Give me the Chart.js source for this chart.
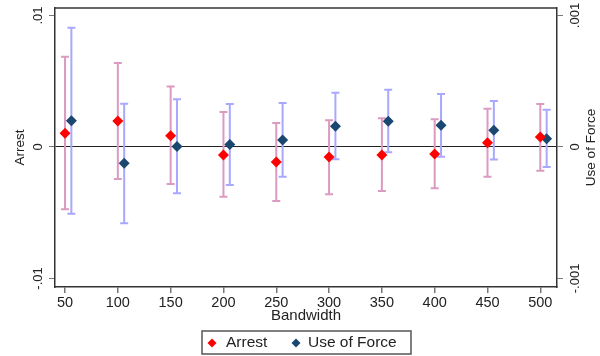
<!DOCTYPE html>
<html>
<head>
<meta charset="utf-8">
<script src="https://cdn.jsdelivr.net/npm/chart.js@4"></script>
<style>
  html, body { margin: 0; padding: 0; background: #fff; }
  #wrap { width: 600px; height: 356px; }
</style>
</head>
<body>
<div id="wrap"><canvas id="rdChart" width="600" height="356"></canvas></div>
<script>
// data
const bandwidths = [50, 100, 150, 200, 250, 300, 350, 400, 450, 500];
const xTicks = [50, 100, 150, 200, 250, 300, 350, 400, 450, 500];

const arrestEst = [0.00104, 0.00198, 0.00086, -0.00061, -0.00114, -0.00076, -0.00061, -0.00053, 0.00033, 0.00076];
const arrestLo  = [-0.00474, -0.00243, -0.00281, -0.00378, -0.00411, -0.0036, -0.00335, -0.00314, -0.00226, -0.0018];
const arrestHi  = [0.00687, 0.00639, 0.00459, 0.00266, 0.00183, 0.00203, 0.00218, 0.0021, 0.00291, 0.00327];

const forceEst = [0.0002, -0.000124, 0.000003, 0.000018, 0.000053, 0.000157, 0.000195, 0.000165, 0.000127, 0.000063];
const forceLo  = [-0.000507, -0.00058, -0.000352, -0.000289, -0.000226, -0.000094, -0.00004, -0.000074, -0.000096, -0.000152];
const forceHi  = [0.000907, 0.000329, 0.000363, 0.000327, 0.000335, 0.000413, 0.000436, 0.000403, 0.00035, 0.000284];

const forceOffset = 6; // use of force drawn a bit to the right

const leftTicks = [-0.01, 0, 0.01];
const leftTickLabels = ["-.01", "0", ".01"];
const rightTicks = [-0.001, 0, 0.001];
const rightTickLabels = ["-.001", "0", ".001"];

const FONT = '"Liberation Sans", Arial, sans-serif';
const RED = "#ff0000";
const NAVY = "#1a476f";
const PINK = "#dc9ac0";
const LAVENDER = "#a8a8ff";
const AXIS = "#333333";
const TICK = "#777777";

// error bars, under the markers
const errorBars = {
  id: "errorBars",
  beforeDatasetsDraw(chart) {
    const { ctx, scales } = chart;
    const x = scales.x;
    const drawBar = (xv, lo, hi, yScale, color) => {
      const px = x.getPixelForValue(xv);
      const top = yScale.getPixelForValue(hi);
      const bot = yScale.getPixelForValue(lo);
      ctx.strokeStyle = color;
      ctx.beginPath();
      ctx.moveTo(px, top); ctx.lineTo(px, bot);
      ctx.moveTo(px - 4, top); ctx.lineTo(px + 4, top);
      ctx.moveTo(px - 4, bot); ctx.lineTo(px + 4, bot);
      ctx.stroke();
    };
    ctx.save();
    ctx.lineWidth = 2;
    bandwidths.forEach((b, i) => {
      drawBar(b, arrestLo[i], arrestHi[i], scales.y, PINK);
      drawBar(b + forceOffset, forceLo[i], forceHi[i], scales.y2, LAVENDER);
    });
    ctx.restore();
  }
};

// frame, labels, titles and legend in the Stata look
const stataText = {
  id: "stataText",
  afterDraw(chart) {
    const { ctx, chartArea, scales } = chart;
    const { x, y, y2 } = scales;
    ctx.save();

    // top edge of the box
    ctx.strokeStyle = AXIS;
    ctx.lineWidth = 1.5;
    ctx.beginPath();
    ctx.moveTo(chartArea.left, chartArea.top);
    ctx.lineTo(chartArea.right, chartArea.top);
    ctx.stroke();

    ctx.fillStyle = "#222";
    ctx.textAlign = "center";
    ctx.textBaseline = "middle";

    const vText = (txt, px, py) => {
      ctx.save();
      ctx.translate(px, py);
      ctx.rotate(-Math.PI / 2);
      ctx.fillText(txt, 0, 0);
      ctx.restore();
    };

    // y tick labels (rotated)
    ctx.font = "13px " + FONT;
    leftTicks.forEach((v, i) => vText(leftTickLabels[i], 38, y.getPixelForValue(v)));
    rightTicks.forEach((v, i) => vText(rightTickLabels[i], 575, y2.getPixelForValue(v)));

    // y titles
    ctx.font = "13.5px " + FONT;
    const midY = (chartArea.top + chartArea.bottom) / 2;
    vText("Arrest", 20, midY);
    vText("Use of Force", 591, midY);

    // x tick labels and title
    ctx.font = "14.5px " + FONT;
    xTicks.forEach(v => ctx.fillText(String(v), x.getPixelForValue(v), 303));
    ctx.font = "15px " + FONT;
    const midX = (chartArea.left + chartArea.right) / 2;
    ctx.fillText("Bandwidth", midX, 316);

    // legend box
    const boxL = 202, boxR = 411, boxT = 331, boxB = 354;
    ctx.strokeStyle = "#555";
    ctx.lineWidth = 1.5;
    ctx.strokeRect(boxL, boxT, boxR - boxL, boxB - boxT);
    const diamond = (cx, cy, r, color) => {
      ctx.fillStyle = color;
      ctx.beginPath();
      ctx.moveTo(cx, cy - r); ctx.lineTo(cx + r, cy);
      ctx.lineTo(cx, cy + r); ctx.lineTo(cx - r, cy);
      ctx.closePath();
      ctx.fill();
    };
    const ly = 343;
    diamond(212, ly, 4.5, RED);
    diamond(296, ly, 4.5, NAVY);
    ctx.fillStyle = "#222";
    ctx.textAlign = "left";
    ctx.font = "15.5px " + FONT;
    ctx.fillText("Arrest", 226, ly);
    ctx.fillText("Use of Force", 308, ly);

    ctx.restore();
  }
};

const setTicks = (values) => (scale) => {
  scale.ticks = values.map(v => ({ value: v }));
};

new Chart(document.getElementById("rdChart"), {
  type: "scatter",
  data: {
    datasets: [
      {
        label: "Arrest",
        data: bandwidths.map((b, i) => ({ x: b, y: arrestEst[i] })),
        yAxisID: "y",
        pointStyle: "rectRot",
        pointRadius: 5.5,
        pointHoverRadius: 5.5,
        backgroundColor: RED,
        borderWidth: 0
      },
      {
        label: "Use of Force",
        data: bandwidths.map((b, i) => ({ x: b + forceOffset, y: forceEst[i] })),
        yAxisID: "y2",
        pointStyle: "rectRot",
        pointRadius: 5.5,
        pointHoverRadius: 5.5,
        backgroundColor: NAVY,
        borderWidth: 0
      }
    ]
  },
  options: {
    responsive: false,
    animation: false,
    devicePixelRatio: 1,
    layout: { padding: { top: 8, left: 0, right: 0, bottom: 28 } },
    plugins: {
      legend: { display: false },
      tooltip: { enabled: false }
    },
    scales: {
      x: {
        type: "linear",
        min: 40.5,
        max: 515.8,
        afterBuildTicks: setTicks(xTicks),
        afterFit: (s) => { s.height = 41; },
        ticks: { display: false },
        grid: { drawOnChartArea: false, tickLength: 6, tickColor: TICK, lineWidth: 1.5 },
        border: { color: AXIS, width: 1.5 }
      },
      y: {
        position: "left",
        min: -0.01065,
        max: 0.01057,
        afterBuildTicks: setTicks(leftTicks),
        afterFit: (s) => { s.width = 55; },
        ticks: { display: false },
        grid: {
          tickLength: 6,
          tickColor: TICK,
          lineWidth: 1,
          color: (c) => (c.tick && c.tick.value === 0 ? "#222" : "rgba(0,0,0,0)")
        },
        border: { color: AXIS, width: 1.5 }
      },
      y2: {
        position: "right",
        min: -0.001065,
        max: 0.001057,
        afterBuildTicks: setTicks(rightTicks),
        afterFit: (s) => { s.width = 43; },
        ticks: { display: false },
        grid: { drawOnChartArea: false, tickLength: 6, tickColor: TICK },
        border: { color: AXIS, width: 1.5 }
      }
    }
  },
  plugins: [errorBars, stataText]
});
</script>
</body>
</html>
